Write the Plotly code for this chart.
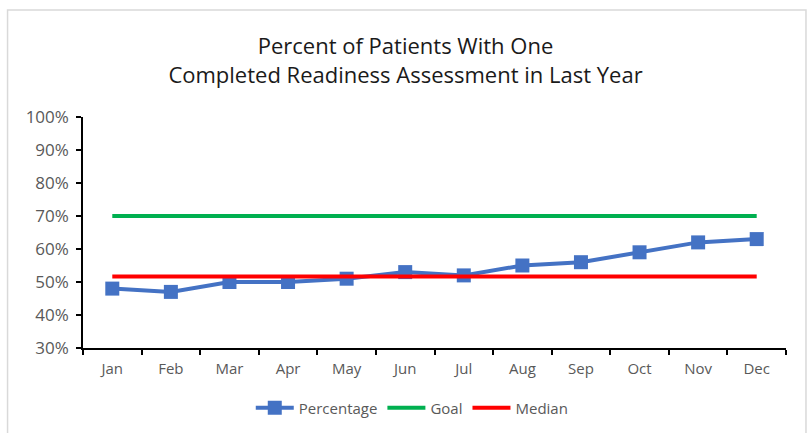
import plotly.graph_objects as go

months = ["Jan", "Feb", "Mar", "Apr", "May", "Jun", "Jul", "Aug", "Sep", "Oct", "Nov", "Dec"]
percentage = [48, 47, 50, 50, 51, 53, 52, 55, 56, 59, 62, 63]
goal = [70] * 12
median = [51.7] * 12
y_ticks = [30, 40, 50, 60, 70, 80, 90, 100]
y_tick_labels = [f"{v}%" for v in y_ticks]

FONT = "Open Sans"
GRAY = "#595959"

fig = go.Figure()
fig.add_trace(go.Scatter(x=months, y=percentage, name="Percentage", mode="lines+markers",
                         line=dict(color="#4472C4", width=4),
                         marker=dict(symbol="square", size=14, color="#4472C4")))
fig.add_trace(go.Scatter(x=months, y=goal, name="Goal", mode="lines",
                         line=dict(color="#00B050", width=4)))
fig.add_trace(go.Scatter(x=months, y=median, name="Median", mode="lines",
                         line=dict(color="#FF0000", width=4)))

L, R, T, B = 82.5, 25, 117, 85
W, H = 811, 433
pw, ph = W - L - R, H - T - B

fig.update_layout(
    width=W, height=H,
    margin=dict(l=L, r=R, t=T, b=B, autoexpand=False),
    paper_bgcolor="white", plot_bgcolor="white",
    font=dict(family=FONT, color=GRAY, size=14),
    title=dict(text="Percent of Patients With One<br>Completed Readiness Assessment in Last Year",
               x=0.5, xanchor="center", y=1 - 54 / H, yanchor="middle",
               font=dict(family=FONT, size=22, color="#1a1a1a")),
    showlegend=True,
    legend=dict(orientation="h", x=(412 - L) / pw, xanchor="center", y=(348 - 408) / ph,
                yanchor="middle", font=dict(family=FONT, size=15, color=GRAY),
                traceorder="normal", itemwidth=38),
    xaxis=dict(type="category", range=[-0.5, 11.5], showgrid=False, showline=True,
               linecolor="black", linewidth=1.5, ticks="outside", tickson="boundaries",
               ticklen=5, tickcolor="black", tickwidth=1.5, tickfont=dict(size=15, color=GRAY),
               ticklabelstandoff=6),
    yaxis=dict(range=[30, 100], tickvals=y_ticks, ticktext=y_tick_labels, showgrid=False,
               showline=True, linecolor="black", linewidth=1.5, ticks="outside", ticklen=5,
               tickcolor="black", tickwidth=1.5, tickfont=dict(size=17, color=GRAY), zeroline=False,
               ticklabelstandoff=4),
    shapes=[dict(type="rect", xref="paper", yref="paper",
                 x0=(7 - L) / pw, x1=(806 - L) / pw, y0=-0.6, y1=(348 - 10) / ph,
                 line=dict(color="#d9d9d9", width=1.5), fillcolor="rgba(0,0,0,0)", layer="below")],
)

fig.write_html("out.html", config={"displayModeBar": False},
               post_script="document.body.style.margin='0px';")
